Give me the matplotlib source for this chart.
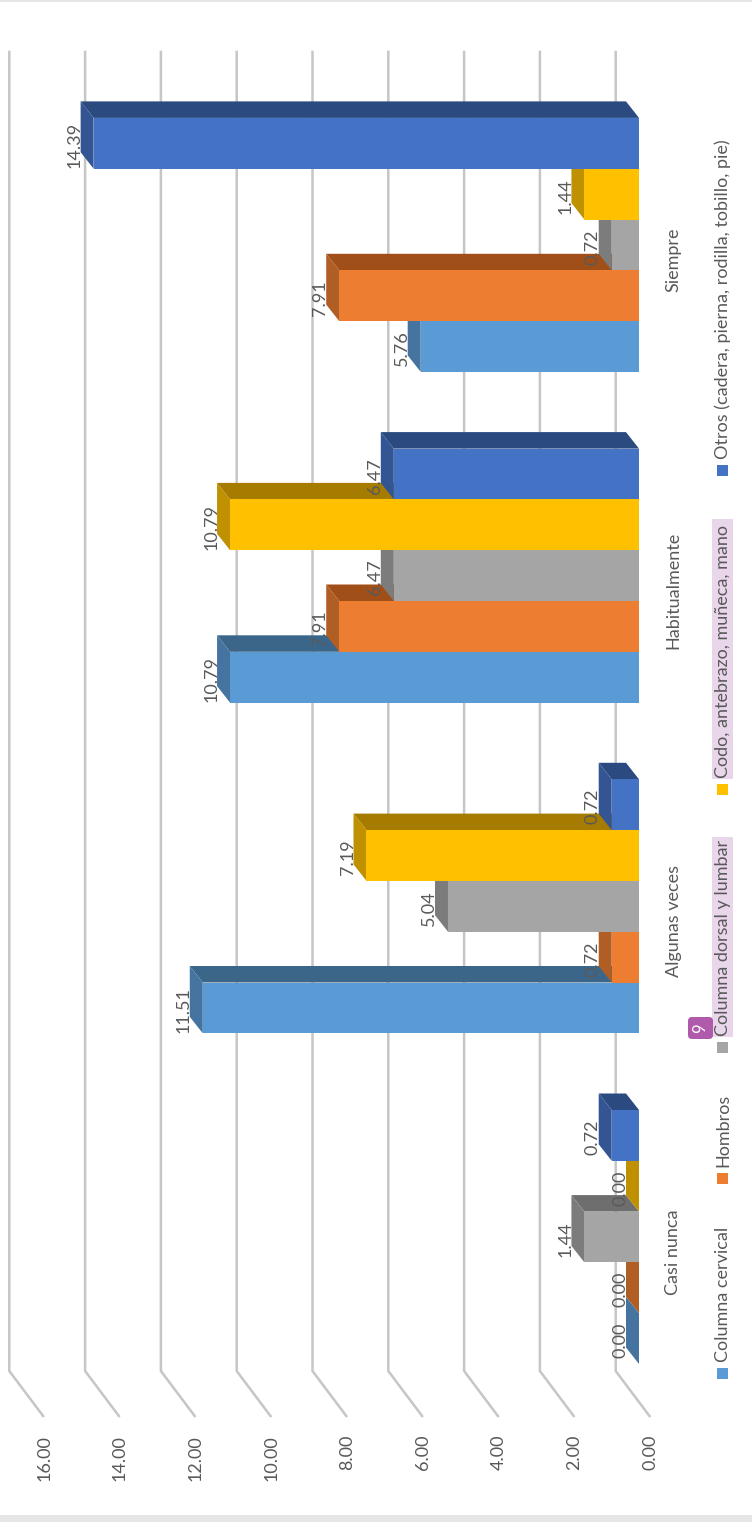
#! /usr/bin/env python
import matplotlib
matplotlib.use("Agg")
import matplotlib.pyplot as plt
from matplotlib.patches import FancyBboxPatch, Rectangle
from matplotlib.transforms import Affine2D

###########################################
#VALUES
###########################################
categories = ["Casi nunca", "Algunas veces", "Habitualmente", "Siempre"]
series_names = ["Columna cervical", "Hombros", "Columna dorsal y lumbar",
                "Codo, antebrazo, muñeca, mano", "Otros (cadera, pierna, rodilla, tobillo, pie)"]
cervical = [0.00, 11.51, 10.79, 5.76]
hombros = [0.00, 0.72, 7.91, 7.91]
dorsal = [1.44, 5.04, 6.47, 0.72]
codo = [0.00, 7.19, 10.79, 1.44]
otros = [0.72, 0.72, 6.47, 14.39]
ticks = [0, 2, 4, 6, 8, 10, 12, 14, 16]

front_cols = ["#5B9BD5", "#ED7D31", "#A5A5A5", "#FFC000", "#4472C4"]
end_cols = ["#44749F", "#B15E25", "#7C7C7C", "#BF9000", "#335593"]
side_cols = ["#3C6689", "#A14F19", "#6E6E6E", "#A67C00", "#2A4A80"]

###########################################
#LAYOUT (pixels, measured from top left)
###########################################
W, H = 752, 1522
X0 = 639.0        #value 0 on the front of the bars
PX_V = 37.9       #pixels per value unit
Y0 = 1237.0       #centre of first group
PX_C = 330.7      #pixels per category
BAR_W = 50.8 / PX_C
DX = 13.0 / PX_V  #depth of a bar, value units
DY = 16.5 / PX_C  #depth of a bar, category units
TXT = "#595959"
FS = 13.0

plt.rcParams["font.family"] = ["Lato", "DejaVu Sans"]
fig = plt.figure(figsize=(W / 100, H / 100), dpi=100)
ax = fig.add_axes([0, 0, 1, 1])
ax.set_xlim(X0 / PX_V, (X0 - W) / PX_V)
ax.set_ylim((Y0 - H) / PX_C, Y0 / PX_C)
ax.axis("off")
px = Affine2D().scale(1, -1).translate(0, H)  #for the page furniture

#page bands
ax.add_patch(Rectangle((0, 0), W, 2, transform=px, fc="#E6E6E6", lw=0))
ax.add_patch(Rectangle((0, 1515), W, H - 1515, transform=px, fc="#E6E6E6", lw=0))

#grid on the back wall + floor
for t in ticks:
    back = t + 23.3 / PX_V
    front = t - 10.5 / PX_V
    top = (Y0 - 52) / PX_C
    floor_back = (Y0 - 1371) / PX_C
    floor_front = (Y0 - 1416) / PX_C
    ax.plot([back, back, front], [top, floor_back, floor_front], color="#C6C6C6", lw=1.8,
            solid_joinstyle="miter", zorder=1)
    ax.text(t - 11.5 / PX_V, (Y0 - 1435) / PX_C, "%.2f" % t, rotation=90, ha="center", va="top",
            color=TXT, fontsize=FS)

#bars, from the bottom of the picture up so that each one hides the side of the one below
all_series = [cervical, hombros, dorsal, codo, otros]
z = 2
for c in range(len(categories)):
    for s in range(len(all_series)):
        v = all_series[s][c]
        low = c - 2.5 * BAR_W + s * BAR_W
        high = low + BAR_W
        ax.fill([0, v, v + DX, DX], [high, high, high + DY, high + DY], color=side_cols[s], lw=0, zorder=z)
        ax.fill([v, v, v + DX, v + DX], [low, high, high + DY, low + DY], color=end_cols[s], lw=0, zorder=z)
        ax.fill([0, v, v, 0], [low, low, high, high], color=front_cols[s], lw=0, zorder=z)
        z += 1

#value labels
for c in range(len(categories)):
    for s in range(len(all_series)):
        v = all_series[s][c]
        low = c - 2.5 * BAR_W + s * BAR_W
        ax.text(v + 18.8 / PX_V, low + BAR_W / 2 - 2.0 / PX_C, "%.2f" % v, rotation=90, ha="center",
                va="center", color=TXT, fontsize=FS, zorder=100)

#category labels
for c in range(len(categories)):
    ax.text(-34.5 / PX_V, c - 15.0 / PX_C, categories[c], rotation=90, ha="center", va="center",
            color=TXT, fontsize=FS, zorder=100)

#legend, rotated like the rest of the page
legend_marker_y = [1373, 1178, 1047, 789, 470]
LEG_X = 722.5
#highlighted entries
ax.add_patch(Rectangle((712, 837), 21, 200, transform=px, fc="#E9D6EB", lw=0, zorder=3))
ax.add_patch(Rectangle((712, 519), 21, 260, transform=px, fc="#E9D6EB", lw=0, zorder=3))
for s in range(len(series_names)):
    y = legend_marker_y[s]
    ax.add_patch(Rectangle((LEG_X - 5.5, y - 5.5), 11, 11, transform=px, fc=front_cols[s], lw=0, zorder=4))
    ax.text(LEG_X + 0.5, y - 11, series_names[s], transform=px, rotation=90, ha="center", va="bottom",
            color=TXT, fontsize=FS, zorder=5)

#comment badge
ax.add_patch(FancyBboxPatch((692, 1021), 17, 14, boxstyle="round,pad=4", transform=px, fc="#B05AAB", lw=0, zorder=6))
ax.text(700.5, 1028, "9", transform=px, rotation=90, ha="center", va="center", color="white",
        fontsize=12, zorder=7)

fig.savefig("out.png", dpi=100)
